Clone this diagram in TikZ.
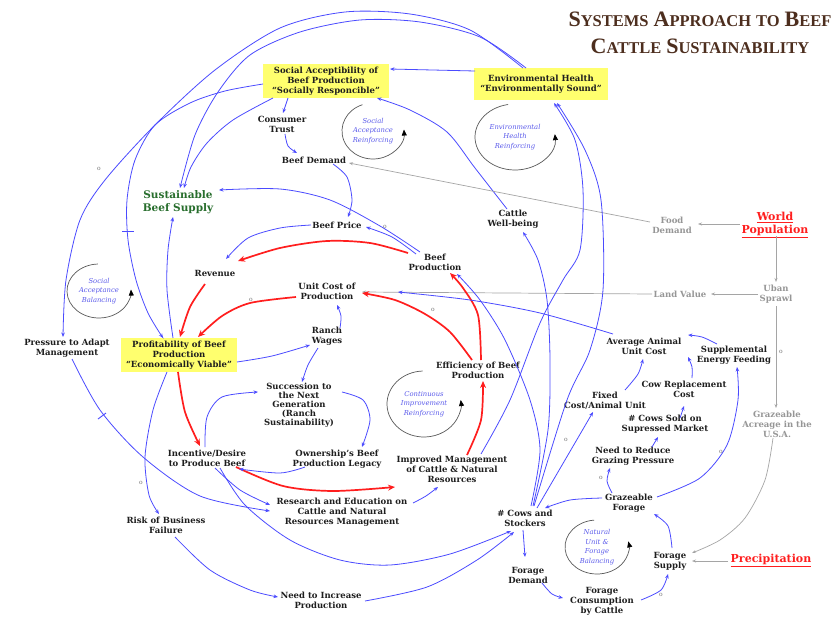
\documentclass[tikz,border=0pt]{standalone}
\usepackage{fontspec}
\usetikzlibrary{arrows.meta}
\newfontfamily\dvserif{DejaVu Serif}
\newfontfamily\titleserif{Liberation Serif}
\definecolor{linkblue}{RGB}{75,75,255}
\definecolor{linkred}{RGB}{255,30,30}
\definecolor{linkgray}{RGB}{165,165,165}
\definecolor{keyyellow}{RGB}{255,255,110}
\definecolor{titlebrown}{RGB}{77,46,30}
\definecolor{supplygreen}{RGB}{40,110,45}
\definecolor{loopblue}{RGB}{90,90,235}
\definecolor{vartext}{RGB}{30,30,30}
\definecolor{gvartext}{RGB}{150,150,150}
% fake small caps: large initial, smaller rest
\newcommand{\bigsc}[2]{{\fontsize{22}{27}\selectfont #1}#2}
\newcommand{\tsp}{\hspace{5pt}}
\tikzset{
  var/.style={font=\dvserif\bfseries\fontsize{8.5}{10}\selectfont, text=vartext, align=center, inner sep=1pt},
  gvar/.style={var, text=gvartext},
  keyvar/.style={var, fill=keyyellow, inner sep=0pt},
  driver/.style={font=\dvserif\bfseries\fontsize{11}{13}\selectfont, text=linkred, align=center, inner sep=1pt},
  goal/.style={font=\dvserif\bfseries\fontsize{10.5}{12.5}\selectfont, text=supplygreen, align=center, inner sep=1pt},
  looplabel/.style={font=\dvserif\itshape\fontsize{6.8}{9.5}\selectfont, text=loopblue, align=center, inner sep=0pt},
  bl/.style={draw=linkblue, line width=0.8pt, -{Stealth[length=4.5pt,width=3.6pt]}},
  rl/.style={draw=linkred, line width=1.7pt, -{Stealth[length=7pt,width=6pt]}},
  gl/.style={draw=linkgray, line width=0.7pt, -{Stealth[length=4pt,width=3pt]}},
  polarity/.style={font=\dvserif\fontsize{6}{6}\selectfont, text=black!55, inner sep=0pt},
  loopline/.style={draw=black!65, line width=0.7pt, -{Triangle[length=6pt,width=5pt,color=black]}},
  delaymark/.style={draw=linkblue, line width=0.9pt},
}
\begin{document}
\begin{tikzpicture}[x=1pt,y=-1pt]
\useasboundingbox (0,0) rectangle (840,618);
\fill[white] (0,0) rectangle (840,618);

% ---------- title ----------
\node[font=\titleserif\bfseries\fontsize{16.5}{27}\selectfont, text=titlebrown, align=center, inner sep=0pt] (title) at (700,33)
  {\bigsc{S}{YSTEMS}\tsp\bigsc{A}{PPROACH}\tsp TO\tsp\bigsc{B}{EEF}\\
   \bigsc{C}{ATTLE}\tsp\bigsc{S}{USTAINABILITY}};

% ---------- variables ----------
\node[keyvar, minimum width=126pt, minimum height=33pt] (socacc) at (326,81)
  {Social Acceptibility of\\Beef Production\\“Socially Responcible”};
\node[keyvar, minimum width=134pt, minimum height=32pt] (env) at (541,84)
  {Environmental Health\\“Environmentally Sound”};
\node[keyvar, minimum width=116pt, minimum height=34pt] (profit) at (179,355)
  {Profitability of Beef\\Production\\“Economically Viable”};

\node[var] (trust) at (282,124) {Consumer\\Trust};
\node[var] (demand) at (314,160) {Beef Demand};
\node[goal] (supply) at (178,202) {Sustainable\\Beef Supply};
\node[var] (wellbeing) at (513,219) {Cattle\\Well-being};
\node[gvar] (food) at (672,225) {Food\\Demand};
\node[driver] (worldpop) at (775,225) {\underline{World}\\\underline{Population}};
\node[var] (price) at (337,225) {Beef Price};
\node[var] (revenue) at (215,273) {Revenue};
\node[var] (production) at (435,262) {Beef\\Production};
\node[var] (unitcost) at (327,291) {Unit Cost of\\Production};
\node[gvar] (land) at (680,294) {Land Value};
\node[gvar] (sprawl) at (776,294) {Uban\\Sprawl};
\node[var] (wages) at (327,336) {Ranch\\Wages};
\node[var] (pressure) at (67,348) {Pressure to Adapt\\Management};
\node[var] (avgcost) at (644,346) {Average Animal\\Unit Cost};
\node[var] (supp) at (734,355) {Supplemental\\Energy Feeding};
\node[var] (eff) at (478,370) {Efficiency of Beef\\Production};
\node[var, font=\dvserif\bfseries\fontsize{8.5}{8.9}\selectfont] (succ) at (299,405)
  {Succession to\\the Next\\Generation\\(Ranch\\Sustainability)};
\node[var] (fixed) at (605,401) {Fixed\\Cost/Animal Unit};
\node[var] (cowrep) at (684,389) {Cow Replacement\\Cost};
\node[var] (sold) at (665,424) {\# Cows Sold on\\Supressed Market};
\node[gvar] (acreage) at (777,424) {Grazeable\\Acreage in the\\U.S.A.};
\node[var] (reduce) at (633,456) {Need to Reduce\\Grazing Pressure};
\node[var] (incentive) at (207,458) {Incentive/Desire\\to Produce Beef};
\node[var] (legacy) at (337,459) {Ownership’s Beef\\Production Legacy};
\node[var] (improved) at (452,469) {Improved Management\\of Cattle \& Natural\\Resources};
\node[var] (forage) at (629,503) {Grazeable\\Forage};
\node[var] (research) at (342,512) {Research and Education on\\Cattle and Natural\\Resources Management};
\node[var] (cows) at (525,518) {\# Cows and\\Stockers};
\node[var] (risk) at (166,525) {Risk of Business\\Failure};
\node[var] (fsupply) at (670,561) {Forage\\Supply};
\node[driver] (precip) at (771,560) {\underline{Precipitation}};
\node[var] (fdemand) at (528,575) {Forage\\Demand};
\node[var] (increase) at (321,600) {Need to Increase\\Production};
\node[var] (consumption) at (602,601) {Forage\\Consumption\\by Cattle};

% ---------- loop markers ----------
\node[looplabel] (lsar) at (373,131) {Social\\Acceptance\\Reinforcing};
\draw[loopline] ([shift={(-110:31 and 28)}]lsar.center) arc[start angle=-110, end angle=-363, x radius=31, y radius=28];
\node[looplabel] (lehr) at (515,137) {Environmental\\Health\\Reinforcing};
\draw[loopline] ([shift={(-100:40 and 33)}]lehr.center) arc[start angle=-100, end angle=-365, x radius=40, y radius=33];
\node[looplabel] (lsab) at (99,291) {Social\\Acceptance\\Balancing};
\draw[loopline] ([shift={(-92:32 and 27)}]lsab.center) arc[start angle=-92, end angle=-363, x radius=32, y radius=27];
\node[looplabel] (lcir) at (424,404) {Continuous\\Improvement\\Reinforcing};
\draw[loopline] ([shift={(-92:37 and 33)}]lcir.center) arc[start angle=-92, end angle=-367, x radius=37, y radius=33];
\node[looplabel] (lnuf) at (597,547) {Natural\\Unit \&\\Forage\\Balancing};
\draw[loopline] ([shift={(-95:32 and 27)}]lnuf.center) arc[start angle=-95, end angle=-372, x radius=32, y radius=27];

% ---------- outer arcs ----------
\draw[bl] plot[smooth] coordinates {([shift={(-18,-16)}]env.center) (470,30) (410,14) (345,12) (280,28) (215,70) (155,125) (105,180) (80,220) (66,280) ([shift={(-4,-11)}]pressure.center)};
\node[polarity] (p1) at (99,169) {o};
\draw[bl] plot[smooth] coordinates {([shift={(-15,-16)}]env.center) (480,37) (420,22) (360,20) (300,32) (250,55) (218,92) (195,135) ([shift={(2,-14)}]supply.center)};
\draw[bl] plot[smooth] coordinates {([shift={(-53,17)}]socacc.center) (233,120) (207,143) (191,167) ([shift={(6,-14)}]supply.center)};
\draw[bl] plot[smooth] coordinates {([shift={(-63,3)}]socacc.center) (225,91) (190,103) (155,125) (135,160) (127,200) (128,240) (136,280) (148,313) ([shift={(-16,-17)}]profit.center)};
\draw[delaymark] (122,231) -- (134,231);
\draw[bl] plot[smooth] coordinates {([shift={(-6,-10)}]wellbeing.center) (475,168) (447,132) (410,110) ([shift={(51,17)}]socacc.center)};
\draw[bl] ([shift={(-66,-13)}]env.center) -- ([shift={(64,-12)}]socacc.center);

% ---------- demand side ----------
\draw[bl] ([shift={(-38,17)}]socacc.center) -- ([shift={(1,-11)}]trust.center);
\draw[bl] plot[smooth] coordinates {([shift={(3,10)}]trust.center) (288,146) ([shift={(-17,-7)}]demand.center)};
\draw[bl] plot[smooth] coordinates {([shift={(19,4)}]demand.center) (347,177) (352,200) ([shift={(11,-8)}]price.center)};

% ---------- grey external drivers ----------
\draw[gl] ([shift={(-22,-3)}]food.center) -- ([shift={(35,3)}]demand.center);
\draw[gl] ([shift={(-35,-1)}]worldpop.center) -- ([shift={(26,-1)}]food.center);
\draw[gl] ([shift={(1,11)}]worldpop.center) -- ([shift={(0,-12)}]sprawl.center);
\draw[gl] ([shift={(-18,0)}]sprawl.center) -- ([shift={(31,0)}]land.center);
\draw[gl] ([shift={(-28,0)}]land.center) -- ([shift={(35,1)}]unitcost.center);
\draw[gl] ([shift={(0,12)}]sprawl.center) -- ([shift={(-1,-16)}]acreage.center);
\node[polarity] (p2) at (781,352) {o};
\draw[gl] plot[smooth] coordinates {([shift={(-4,14)}]acreage.center) (765,480) (745,518) (720,540) ([shift={(22,-8)}]fsupply.center)};
\draw[gl] ([shift={(-43,1)}]precip.center) -- ([shift={(22,0)}]fsupply.center);

% ---------- production and price ----------
\draw[bl] plot[smooth] coordinates {([shift={(-15,-10)}]production.center) (380,226) (330,200) (280,189) ([shift={(41,-12)}]supply.center)};
\draw[bl] plot[smooth] coordinates {([shift={(-19,-8)}]production.center) (392,237) ([shift={(29,2)}]price.center)};
\node[polarity] (p3) at (385,227) {o};
\draw[bl] plot[smooth] coordinates {([shift={(-26,0)}]price.center) (280,228) (248,238) ([shift={(11,-14)}]revenue.center)};

% ---------- economic core (red) ----------
\draw[rl] plot[smooth] coordinates {([shift={(-27,-9)}]production.center) (370,243) (327,241) (280,248) ([shift={(23,-12)}]revenue.center)};
\draw[rl] plot[smooth] coordinates {([shift={(-10,11)}]revenue.center) (190,307) ([shift={(1,-18)}]profit.center)};
\draw[rl] plot[smooth] coordinates {([shift={(-31,6)}]unitcost.center) (250,303) (222,316) ([shift={(19,-18)}]profit.center)};
\node[polarity] (p4) at (251,300) {o};
\draw[rl] plot[smooth] coordinates {([shift={(-6,-10)}]eff.center) (450,332) (425,314) (395,300) ([shift={(35,2)}]unitcost.center)};
\node[polarity] (p5) at (433,310) {o};
\draw[rl] plot[smooth] coordinates {([shift={(3,-10)}]eff.center) (478,315) (463,288) ([shift={(15,11)}]production.center)};
\draw[rl] plot[smooth] coordinates {([shift={(15,-14)}]improved.center) (481,420) ([shift={(5,11)}]eff.center)};
\draw[rl] plot[smooth] coordinates {([shift={(-1,17)}]profit.center) (185,412) ([shift={(-7,-12)}]incentive.center)};
\draw[rl] plot[smooth] coordinates {([shift={(29,9)}]incentive.center) (283,486) (333,491) ([shift={(-57,18)}]improved.center)};

% ---------- ranch succession ----------
\draw[bl] plot[smooth] coordinates {([shift={(-32,8)}]legacy.center) (280,473) ([shift={(32,11)}]incentive.center)};
\draw[bl] plot[smooth] coordinates {([shift={(43,-13)}]succ.center) (363,400) (370,420) ([shift={(25,-12)}]legacy.center)};
\draw[bl] plot[smooth] coordinates {([shift={(-2,-11)}]incentive.center) (207,417) (222,397) ([shift={(-41,-13)}]succ.center)};
\draw[bl] plot[smooth] coordinates {([shift={(-9,12)}]wages.center) (308,365) ([shift={(3,-23)}]succ.center)};
\draw[bl] plot[smooth] coordinates {([shift={(58,7)}]profit.center) (272,356) ([shift={(-17,9)}]wages.center)};
\draw[bl] plot[smooth] coordinates {([shift={(13,-8)}]wages.center) (341,316) ([shift={(10,14)}]unitcost.center)};
\draw[bl] plot[smooth] coordinates {([shift={(-6,-17)}]profit.center) (167,290) (168,250) ([shift={(-5,15)}]supply.center)};

% ---------- risk, pressure and research ----------
\draw[bl] plot[smooth] coordinates {([shift={(-12,17)}]profit.center) (153,410) (145,457) (149,495) ([shift={(-7,-11)}]risk.center)};
\node[polarity] (p6) at (141,483) {o};
\draw[bl] plot[smooth] coordinates {([shift={(5,11)}]pressure.center) (100,410) (143,457) (200,496) ([shift={(-72,-1)}]research.center)};
\draw[delaymark] (98,419) -- (106,413);
\draw[bl] plot[smooth] coordinates {([shift={(8,10)}]incentive.center) (240,490) ([shift={(-72,-7)}]research.center)};
\draw[bl] plot[smooth] coordinates {([shift={(13,10)}]incentive.center) (245,505) (290,540) (340,560) (390,565) (450,554) ([shift={(-14,13)}]cows.center)};
\draw[bl] plot[smooth] coordinates {([shift={(9,12)}]risk.center) (210,570) (250,590) ([shift={(-43,-3)}]increase.center)};
\draw[bl] plot[smooth] coordinates {([shift={(44,1)}]increase.center) (427,587) (477,560) ([shift={(-11,14)}]cows.center)};
\draw[bl] plot[smooth] coordinates {([shift={(71,-9)}]research.center) (426,496) ([shift={(-14,18)}]improved.center)};

% ---------- herd size ----------
\draw[bl] plot[smooth] coordinates {([shift={(6,-12)}]cows.center) (540,450) (530,400) (505,340) (480,300) ([shift={(22,12)}]production.center)};
\draw[bl] plot[smooth] coordinates {([shift={(8,-12)}]cows.center) (548,430) (550,360) (547,300) (538,260) ([shift={(10,13)}]wellbeing.center)};
\draw[bl] plot[smooth] coordinates {([shift={(9,-12)}]cows.center) (567,400) (590,350) (603,290) (601,200) (585,150) ([shift={(16,19)}]env.center)};
\draw[bl] plot[smooth] coordinates {([shift={(29,-15)}]improved.center) (510,400) (540,323) (563,280) (580,250) (583,190) (575,140) ([shift={(13,19)}]env.center)};
\draw[bl] plot[smooth] coordinates {([shift={(12,-10)}]cows.center) (565,460) ([shift={(-12,11)}]fixed.center)};
\node[polarity] (p7) at (566,440) {o};

% ---------- animal unit cost ----------
\draw[bl] plot[smooth] coordinates {([shift={(20,-11)}]fixed.center) (638,374) ([shift={(-1,13)}]avgcost.center)};
\draw[bl] plot[smooth] coordinates {([shift={(8,-11)}]cowrep.center) (692,367) ([shift={(44,11)}]avgcost.center)};
\draw[bl] plot[smooth] coordinates {([shift={(-17,-11)}]supp.center) (702,337) ([shift={(44,-11)}]avgcost.center)};
\draw[bl] ([shift={(15,-6)}]sold.center) -- ([shift={(0,17)}]cowrep.center);
\draw[bl] plot[smooth] coordinates {([shift={(-31,-12)}]avgcost.center) (540,313) (470,300) ([shift={(71,1)}]unitcost.center)};

% ---------- forage ----------
\draw[bl] ([shift={(19,-9)}]reduce.center) -- ([shift={(-7,13)}]sold.center);
\draw[bl] plot[smooth] coordinates {([shift={(-17,-10)}]forage.center) (607,481) ([shift={(-23,12)}]reduce.center)};
\node[polarity] (p8) at (601,478) {o};
\draw[bl] plot[smooth] coordinates {([shift={(28,-6)}]forage.center) (700,478) (727,445) (738,400) ([shift={(3,12)}]supp.center)};
\node[polarity] (p9) at (721,452) {o};
\draw[bl] plot[smooth] coordinates {([shift={(-27,-5)}]forage.center) (570,500) ([shift={(20,-10)}]cows.center)};
\draw[bl] plot[smooth] coordinates {([shift={(2,-13)}]fsupply.center) (668,526) ([shift={(25,11)}]forage.center)};
\draw[bl] ([shift={(-2,12)}]cows.center) -- ([shift={(-3,-18)}]fdemand.center);
\draw[bl] plot[smooth] coordinates {([shift={(14,8)}]fdemand.center) (552,594) ([shift={(-39,-3)}]consumption.center)};
\draw[bl] plot[smooth] coordinates {([shift={(39,-1)}]consumption.center) (661,590) ([shift={(-2,13)}]fsupply.center)};
\node[polarity] (p10) at (661,595) {o};
\end{tikzpicture}
\end{document}
